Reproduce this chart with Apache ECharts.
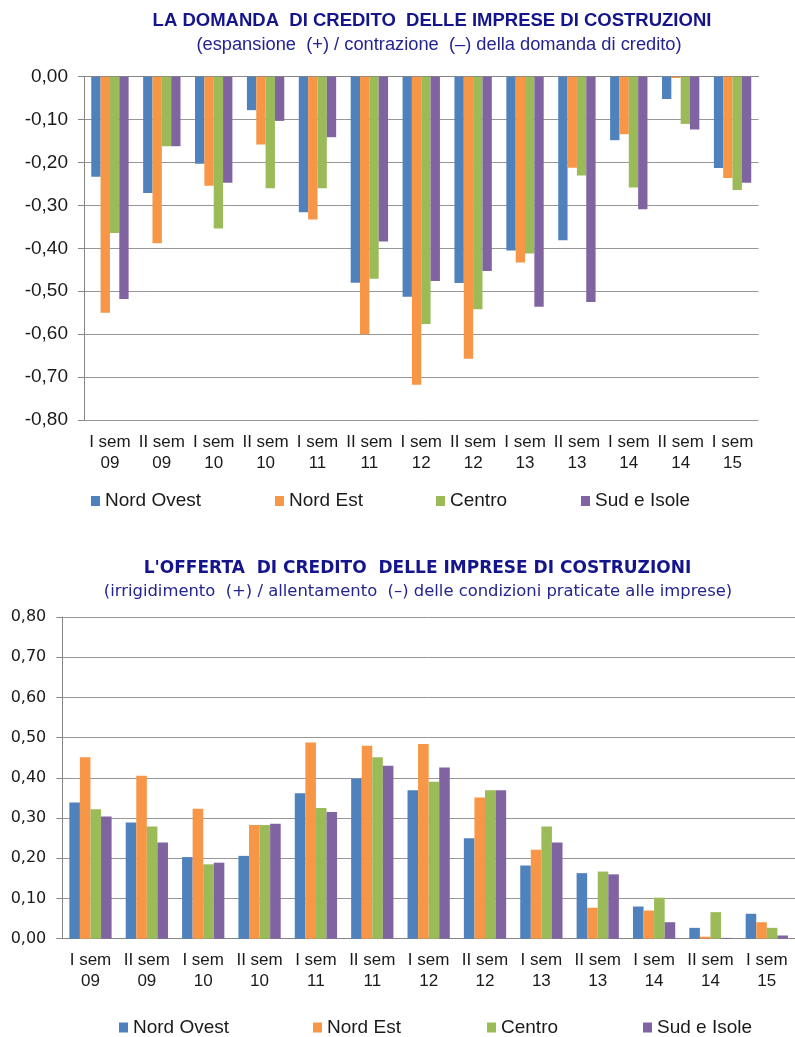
<!DOCTYPE html>
<html>
<head>
<meta charset="utf-8">
<script src="https://cdn.jsdelivr.net/npm/echarts@6/dist/echarts.min.js"></script>
<style>
  html, body { margin: 0; padding: 0; background: #fff; }
  #chart { width: 795px; height: 1037px; }
</style>
</head>
<body>
<div id="chart"></div>
<script>
// Semesters on the category axis (two lines each)
const semesters = ['I sem\n09', 'II sem\n09', 'I sem\n10', 'II sem\n10', 'I sem\n11', 'II sem\n11',
  'I sem\n12', 'II sem\n12', 'I sem\n13', 'II sem\n13', 'I sem\n14', 'II sem\n14', 'I sem\n15'];
const areas = ['Nord Ovest', 'Nord Est', 'Centro', 'Sud e Isole'];

// Credit demand: expansion (+) / contraction (-)
const demandNordOvest = [-0.233, -0.271, -0.203, -0.078, -0.316, -0.480, -0.513, -0.481, -0.405, -0.381, -0.148, -0.052, -0.213];
const demandNordEst   = [-0.550, -0.388, -0.254, -0.158, -0.333, -0.600, -0.718, -0.657, -0.433, -0.212, -0.134, -0.003, -0.236];
const demandCentro    = [-0.364, -0.162, -0.354, -0.260, -0.260, -0.471, -0.576, -0.542, -0.412, -0.230, -0.258, -0.110, -0.264];
const demandSud       = [-0.518, -0.162, -0.247, -0.103, -0.141, -0.384, -0.476, -0.453, -0.536, -0.525, -0.309, -0.123, -0.247];

// Credit supply: tightening (+) / easing (-)
const supplyNordOvest = [0.339, 0.289, 0.203, 0.206, 0.362, 0.398, 0.369, 0.250, 0.182, 0.163, 0.080, 0.027, 0.062];
const supplyNordEst   = [0.451, 0.405, 0.323, 0.283, 0.488, 0.480, 0.484, 0.351, 0.221, 0.077, 0.070, 0.005, 0.041];
const supplyCentro    = [0.322, 0.279, 0.185, 0.283, 0.325, 0.451, 0.390, 0.369, 0.279, 0.167, 0.102, 0.066, 0.027];
const supplySud       = [0.304, 0.239, 0.189, 0.286, 0.315, 0.430, 0.426, 0.369, 0.239, 0.160, 0.041, 0.002, 0.008];

const colors = ['#4F81BD', '#F79646', '#9BBB59', '#8064A2'];
const demand = [demandNordOvest, demandNordEst, demandCentro, demandSud];
const supply = [supplyNordOvest, supplyNordEst, supplyCentro, supplySud];

const ARIAL = "'Liberation Sans', Arial, sans-serif";
const VERDANA = "'DejaVu Sans', Verdana, sans-serif";
const gridColor = '#979797';
const axisColor = '#868686';
const txt = '#1a1a1a';
const fmt = v => v.toFixed(2).replace('.', ',');

const chart = echarts.init(document.getElementById('chart'), null, { renderer: 'canvas' });

const series = [];
areas.forEach((name, i) => {
  series.push({
    name, type: 'bar', xAxisIndex: 0, yAxisIndex: 0,
    data: demand[i], barGap: '0%', barCategoryGap: '28%',
    itemStyle: { color: colors[i] }, emphasis: { disabled: true }
  });
});
areas.forEach((name, i) => {
  series.push({
    name, type: 'bar', xAxisIndex: 2, yAxisIndex: 1,
    data: supply[i], barGap: '0%', barCategoryGap: '25%',
    itemStyle: { color: colors[i] }, emphasis: { disabled: true }
  });
});

function legendItem(name, left, top) {
  return {
    data: [name], left, top, padding: 0, orient: 'horizontal',
    icon: 'rect', itemWidth: 9, itemHeight: 10, selectedMode: false,
    textStyle: { fontFamily: ARIAL, fontSize: 19, color: txt }
  };
}

chart.setOption({
  animation: false,
  backgroundColor: '#fff',
  graphic: [
    { type: 'text', x: 432, y: 21, style: { text: 'LA DOMANDA  DI CREDITO  DELLE IMPRESE DI COSTRUZIONI',
      font: "bold 18.5px 'Liberation Sans', Arial, sans-serif", fill: '#14148C', textAlign: 'center', textVerticalAlign: 'middle' } },
    { type: 'text', x: 439, y: 45, style: { text: '(espansione  (+) / contrazione  (–) della domanda di credito)',
      font: "18.3px 'Liberation Sans', Arial, sans-serif", fill: '#24248F', textAlign: 'center', textVerticalAlign: 'middle' } },
    { type: 'text', x: 417.5, y: 569, style: { text: "L'OFFERTA  DI CREDITO  DELLE IMPRESE DI COSTRUZIONI",
      font: "bold 17px 'DejaVu Sans', Verdana, sans-serif", fill: '#14148C', textAlign: 'center', textVerticalAlign: 'middle' } },
    { type: 'text', x: 418, y: 592, style: { text: '(irrigidimento  (+) / allentamento  (–) delle condizioni praticate alle imprese)',
      font: "16.4px 'DejaVu Sans', Verdana, sans-serif", fill: '#24248F', textAlign: 'center', textVerticalAlign: 'middle' } }
  ],
  legend: [
    legendItem('Nord Ovest', 91, 491.5),
    legendItem('Nord Est', 275, 491.5),
    legendItem('Centro', 436, 491.5),
    legendItem('Sud e Isole', 581, 491.5),
    legendItem('Nord Ovest', 119, 1018),
    legendItem('Nord Est', 313, 1018),
    legendItem('Centro', 487, 1018),
    legendItem('Sud e Isole', 643, 1018)
  ],
  grid: [
    { left: 84, top: 76.7, width: 674.5, height: 343.3 },
    { left: 62.3, top: 617, width: 735.5, height: 321.7 }
  ],
  xAxis: [
    { // line at zero with category separators, top chart
      type: 'category', gridIndex: 0, position: 'top', data: semesters,
      axisLine: { onZero: false, lineStyle: { color: axisColor, width: 1 } },
      axisTick: { inside: true, length: 6, lineStyle: { color: axisColor } },
      axisLabel: { show: false }, splitLine: { show: false }
    },
    { // semester labels below the top chart
      type: 'category', gridIndex: 0, position: 'bottom', data: semesters,
      axisLine: { show: false, onZero: false }, axisTick: { show: false },
      axisLabel: { fontFamily: ARIAL, fontSize: 17, lineHeight: 21, color: txt, margin: 12, interval: 0 },
      splitLine: { show: false }
    },
    { // bottom chart category axis
      type: 'category', gridIndex: 1, position: 'bottom', data: semesters,
      axisLine: { onZero: false, lineStyle: { color: axisColor, width: 1 } },
      axisTick: { length: 6, lineStyle: { color: axisColor } },
      axisLabel: { fontFamily: ARIAL, fontSize: 17, lineHeight: 21, color: txt, margin: 11, interval: 0 },
      splitLine: { show: false }
    }
  ],
  yAxis: [
    {
      type: 'value', gridIndex: 0, min: -0.8, max: 0, interval: 0.1,
      axisLine: { show: true, lineStyle: { color: axisColor } },
      axisTick: { show: true, length: 6, lineStyle: { color: axisColor } },
      splitLine: { lineStyle: { color: gridColor, width: 1 } },
      axisLabel: { formatter: fmt, fontFamily: ARIAL, fontSize: 19, color: txt, margin: 16 }
    },
    {
      type: 'value', gridIndex: 1, min: 0, max: 0.8, interval: 0.1,
      axisLine: { show: true, lineStyle: { color: axisColor } },
      axisTick: { show: true, length: 6, lineStyle: { color: axisColor } },
      splitLine: { lineStyle: { color: gridColor, width: 1 } },
      axisLabel: { formatter: fmt, fontFamily: VERDANA, fontSize: 16, color: txt, margin: 16 }
    }
  ],
  series
});
</script>
</body>
</html>
